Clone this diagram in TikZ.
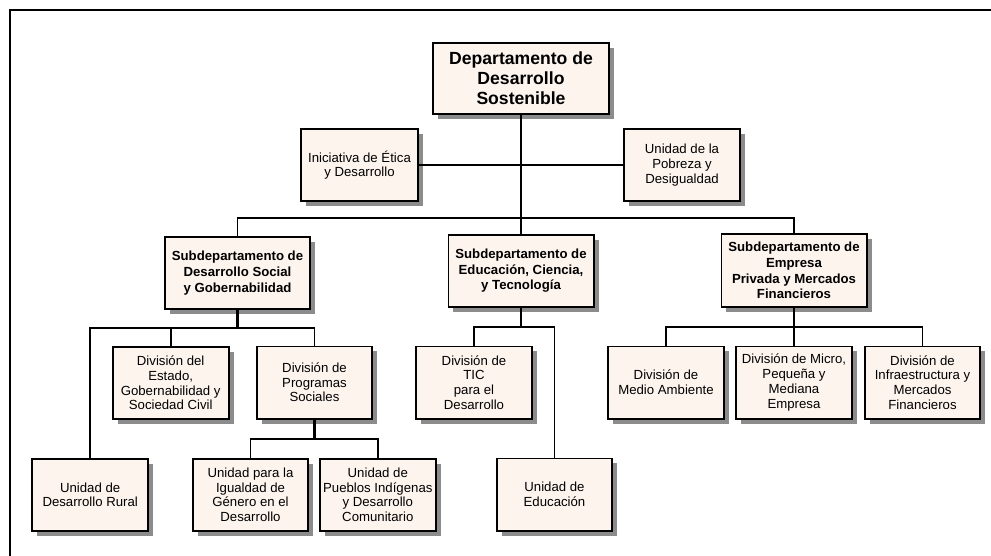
\documentclass[tikz,border=0pt]{standalone}
\usepackage{fontspec}
\setmainfont{Liberation Sans}
\usetikzlibrary{shadows}
\definecolor{boxfill}{RGB}{253,244,238}

\begin{document}
\begin{tikzpicture}[x=1pt,y=-1pt,
    unit/.style={draw, line width=1.9pt, fill=boxfill, align=center,
      minimum width=115.7pt, minimum height=72.1pt, inner sep=2pt,
      font=\fontsize{13.2}{14.7}\selectfont,
      drop shadow={shadow xshift=5pt, shadow yshift=-5pt, fill=black!45, opacity=1}},
    subdept/.style={unit, minimum width=145.1pt, font=\fontsize{13.2}{15.6}\selectfont\bfseries},
    link/.style={line width=1.8pt},
    stem/.style={line width=2.7pt}]
        \useasboundingbox (0,0) rectangle (991,556);

        % Frame
        \draw[line width=2pt] (10,570) -- (10,10.5) -- (1000,10.5);

        % Top
        \node[unit, minimum width=175.2pt, minimum height=71.2pt,
              font=\fontsize{17.6}{19.8}\selectfont\bfseries] (dsd) at (521,78.5)
              {Departamento de\\Desarrollo\\Sostenible};
        \node[unit, minimum width=117.2pt] (etica) at (359.5,165) {Iniciativa de Ética\\y Desarrollo};
        \node[unit] (pob) at (682,165) {Unidad de la\\Pobreza y\\Desigualdad};

        % Subdepartments
        \node[subdept] (soc) at (237.5,273) {Subdepartamento de\\Desarrollo Social\\y Gobernabilidad};
        \node[subdept] (edu) at (521,270.7) {Subdepartamento de\\Educación, Ciencia,\\y Tecnología};
        \node[subdept] (emp) at (794,270.5) {Subdepartamento de\\Empresa\\Privada y Mercados\\Financieros};

        % Divisions
        \node[unit] (estado) at (170.7,383) {División del\\Estado,\\Gobernabilidad y\\Sociedad Civil};
        \node[unit] (prog) at (314.5,382.5) {División de\\Programas\\Sociales};
        \node[unit] (tic) at (474,382.5) {División de\\TIC\\para el\\Desarrollo};
        \node[unit] (medio) at (666,382.5) {División de\\Medio Ambiente};
        \node[unit] (micro) at (794,382.5) {División de Micro,\\Pequeña y\\Mediana\\Empresa};
        \node[unit] (infra) at (922.5,382.5) {División de\\Infraestructura y\\Mercados\\Financieros};

        % Units
        \node[unit] (rural) at (90.2,494.7) {Unidad de\\Desarrollo Rural};
        \node[unit] (igual) at (250.5,494.7) {Unidad para la\\Igualdad de\\Género en el\\Desarrollo};
        \node[unit] (pueb) at (377.8,494.7) {Unidad de\\Pueblos Indígenas\\y Desarrollo\\Comunitario};
        \node[unit] (educ) at (554.5,494.5) {Unidad de\\Educación};

        % Bus levels
        \coordinate (busA) at (521,217.7);
        \coordinate (busS) at (237.5,327.7);
        \coordinate (busP) at (314.5,439);
        \coordinate (busE) at (521,326.7);
        \coordinate (busM) at (794,326.7);

        % draw connectors
        \draw[stem] (dsd.south) -- (edu.north);
        \draw[link, line width=1.3pt] (etica.east) -- (etica.east -| dsd.south);
        \draw[link] (etica.east -| dsd.south) -- (pob.west);
        \draw[link] (soc.north) |- (busA) -| (emp.north);

        \draw[stem] (soc.south) -- (busS);
        \draw[link] (rural.north) |- (busS) -| (prog.north);
        \draw[link] (estado.north) -- (estado.north |- busS);
        \draw[stem] (prog.south) -- (busP);
        \draw[link] (igual.north) |- (busP) -| (pueb.north);

        \draw[link] (edu.south) -- (busE);
        \draw[link] (tic.north) |- (busE) -| (educ.north);

        \draw[link] (emp.south) -- (busM);
        \draw[link] (medio.north) |- (busM) -| (infra.north);
        \draw[link] (micro.north) -- (busM);
    \end{tikzpicture}
\end{document}
